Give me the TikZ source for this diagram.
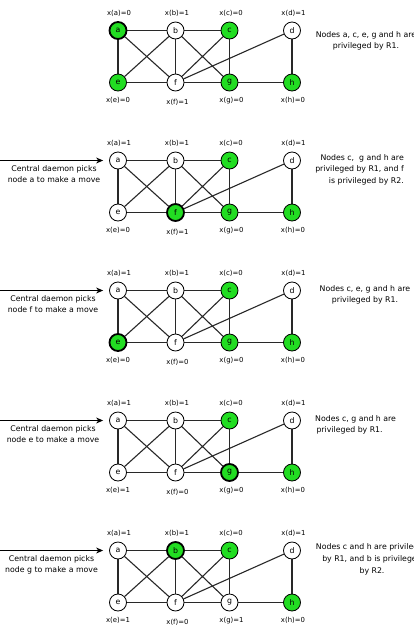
\documentclass[tikz,border=0pt]{standalone}
\usepackage{fontspec}
\setmainfont{DejaVu Sans}
\usetikzlibrary{arrows.meta,backgrounds}
\definecolor{nodegreen}{RGB}{34,221,34}
\definecolor{edgegray}{RGB}{40,40,40}
\newcommand{\txtfont}{\fontsize{7.8}{11.7}\selectfont}
\newcommand{\lblfont}{\fontsize{6.9}{8}\selectfont}
\newcommand{\vtxfont}{\fontsize{7.8}{8}\selectfont}
\tikzset{
  vtx/.style={circle, draw=black, line width=0.8pt, minimum size=17pt, inner sep=0pt, fill=white, font=\vtxfont},
  on/.style={fill=nodegreen},
  sel/.style={line width=1.8pt},
  val/.style={font=\lblfont, inner sep=0pt},
  edge/.style={line width=1.1pt, draw=edgegray},
  txt/.style={font=\txtfont, inner sep=0pt, anchor=north},
  pick/.style={line width=0.9pt, -{Stealth[length=7pt,width=6pt]}, shorten >=6pt},
}
\begin{document}
\begin{tikzpicture}[x=1pt,y=-1pt]
\useasboundingbox (0,0) rectangle (414,630);
\clip (0,0) rectangle (414,630);
\def\xa{118}\def\xb{175.5}\def\xc{229.5}\def\xd{292}
% ---------- panel 1 ----------
\def\yt{30.5}\def\yb{82.5}
\node[vtx,on,sel] (a1) at (\xa,\yt) {a};
\node[vtx] (b1) at (\xb,\yt) {b};
\node[vtx,on] (c1) at (\xc,\yt) {c};
\node[vtx] (d1) at (\xd,\yt) {d};
\node[vtx,on] (e1) at (\xa,\yb) {e};
\node[vtx] (f1) at (\xb,\yb) {f};
\node[vtx,on] (g1) at (\xc,\yb) {g};
\node[vtx,on] (h1) at (\xd,\yb) {h};
\node[val] (la1) at (\xa+1,\yt-17.5) {x(a)=0};
\node[val] (lb1) at (\xb+1.5,\yt-17.5) {x(b)=1};
\node[val] (lc1) at (\xc+1.5,\yt-17.5) {x(c)=0};
\node[val] (ld1) at (\xd+1.5,\yt-17.5) {x(d)=1};
\node[val] (le1) at (\xa,\yb+17.5) {x(e)=0};
\node[val] (lf1) at (\xb+2,\yb+19.5) {x(f)=1};
\node[val] (lg1) at (\xc+2,\yb+18) {x(g)=0};
\node[val] (lh1) at (\xd+1,\yb+17.5) {x(h)=0};
\node[txt,align=center] (r1) at (366,\yt+0.5) {Nodes a, c, e, g and h are\\privileged by R1.};
% ---------- panel 2 ----------
\def\yt{160.5}\def\yb{212.5}
\node[vtx] (a2) at (\xa,\yt) {a};
\node[vtx] (b2) at (\xb,\yt) {b};
\node[vtx,on] (c2) at (\xc,\yt) {c};
\node[vtx] (d2) at (\xd,\yt) {d};
\node[vtx] (e2) at (\xa,\yb) {e};
\node[vtx,on,sel] (f2) at (\xb,\yb) {f};
\node[vtx,on] (g2) at (\xc,\yb) {g};
\node[vtx,on] (h2) at (\xd,\yb) {h};
\node[val] (la2) at (\xa+1,\yt-17.5) {x(a)=1};
\node[val] (lb2) at (\xb+1.5,\yt-17.5) {x(b)=1};
\node[val] (lc2) at (\xc+1.5,\yt-17.5) {x(c)=0};
\node[val] (ld2) at (\xd+1.5,\yt-17.5) {x(d)=1};
\node[val] (le2) at (\xa,\yb+17.5) {x(e)=0};
\node[val] (lf2) at (\xb+2,\yb+19.5) {x(f)=1};
\node[val] (lg2) at (\xc+2,\yb+18) {x(g)=0};
\node[val] (lh2) at (\xd+1,\yb+17.5) {x(h)=0};
\node[txt,align=right,anchor=north east] (r2) at (404,\yt-6.5) {Nodes c,~ g and h are\\privileged by R1, and f\\is privileged by R2.};
\node[txt,align=center] (t2) at (54,\yt+4.5) {Central daemon picks\\node a to make a move};
\coordinate (s2) at (0,\yt);
\draw[pick] (s2) -- (a2);
% ---------- panel 3 ----------
\def\yt{290.5}\def\yb{342.5}
\node[vtx] (a3) at (\xa,\yt) {a};
\node[vtx] (b3) at (\xb,\yt) {b};
\node[vtx,on] (c3) at (\xc,\yt) {c};
\node[vtx] (d3) at (\xd,\yt) {d};
\node[vtx,on,sel] (e3) at (\xa,\yb) {e};
\node[vtx] (f3) at (\xb,\yb) {f};
\node[vtx,on] (g3) at (\xc,\yb) {g};
\node[vtx,on] (h3) at (\xd,\yb) {h};
\node[val] (la3) at (\xa+1,\yt-17.5) {x(a)=1};
\node[val] (lb3) at (\xb+1.5,\yt-17.5) {x(b)=1};
\node[val] (lc3) at (\xc+1.5,\yt-17.5) {x(c)=0};
\node[val] (ld3) at (\xd+1.5,\yt-17.5) {x(d)=1};
\node[val] (le3) at (\xa,\yb+17.5) {x(e)=0};
\node[val] (lf3) at (\xb+2,\yb+19.5) {x(f)=0};
\node[val] (lg3) at (\xc+2,\yb+18) {x(g)=0};
\node[val] (lh3) at (\xd+1,\yb+17.5) {x(h)=0};
\node[txt,align=center] (r3) at (365,\yt-5.5) {Nodes c, e, g and h are\\privileged by R1.};
\node[txt,align=center] (t3) at (53,\yt+4.5) {Central daemon picks\\node f to make a move};
\coordinate (s3) at (0,\yt);
\draw[pick] (s3) -- (a3);
% ---------- panel 4 ----------
\def\yt{420.5}\def\yb{472.5}
\node[vtx] (a4) at (\xa,\yt) {a};
\node[vtx] (b4) at (\xb,\yt) {b};
\node[vtx,on] (c4) at (\xc,\yt) {c};
\node[vtx] (d4) at (\xd,\yt) {d};
\node[vtx] (e4) at (\xa,\yb) {e};
\node[vtx] (f4) at (\xb,\yb) {f};
\node[vtx,on,sel] (g4) at (\xc,\yb) {g};
\node[vtx,on] (h4) at (\xd,\yb) {h};
\node[val] (la4) at (\xa+1,\yt-17.5) {x(a)=1};
\node[val] (lb4) at (\xb+1.5,\yt-17.5) {x(b)=1};
\node[val] (lc4) at (\xc+1.5,\yt-17.5) {x(c)=0};
\node[val] (ld4) at (\xd+1.5,\yt-17.5) {x(d)=1};
\node[val] (le4) at (\xa,\yb+17.5) {x(e)=1};
\node[val] (lf4) at (\xb+2,\yb+19.5) {x(f)=0};
\node[val] (lg4) at (\xc+2,\yb+18) {x(g)=0};
\node[val] (lh4) at (\xd+1,\yb+17.5) {x(h)=0};
\node[txt,align=left,anchor=north west] (r4) at (315,\yt-5.5) {Nodes c, g and h are\\\,privileged by R1.};
\node[txt,align=center] (t4) at (53,\yt+4.5) {Central daemon picks\\node e to make a move};
\coordinate (s4) at (0,\yt);
\draw[pick] (s4) -- (a4);
% ---------- panel 5 ----------
\def\yt{550.5}\def\yb{602.5}
\node[vtx] (a5) at (\xa,\yt) {a};
\node[vtx,on,sel] (b5) at (\xb,\yt) {b};
\node[vtx,on] (c5) at (\xc,\yt) {c};
\node[vtx] (d5) at (\xd,\yt) {d};
\node[vtx] (e5) at (\xa,\yb) {e};
\node[vtx] (f5) at (\xb,\yb) {f};
\node[vtx] (g5) at (\xc,\yb) {g};
\node[vtx,on] (h5) at (\xd,\yb) {h};
\node[val] (la5) at (\xa+1,\yt-17.5) {x(a)=1};
\node[val] (lb5) at (\xb+1.5,\yt-17.5) {x(b)=1};
\node[val] (lc5) at (\xc+1.5,\yt-17.5) {x(c)=0};
\node[val] (ld5) at (\xd+1.5,\yt-17.5) {x(d)=1};
\node[val] (le5) at (\xa,\yb+17.5) {x(e)=1};
\node[val] (lf5) at (\xb+2,\yb+19.5) {x(f)=0};
\node[val] (lg5) at (\xc+2,\yb+18) {x(g)=1};
\node[val] (lh5) at (\xd+1,\yb+17.5) {x(h)=0};
\node[txt,align=center] (r5) at (372,\yt-7) {Nodes c and h are privileged\\by R1, and b is privileged\\by R2.};
\node[txt,align=center] (t5) at (51.5,\yt+4.5) {Central daemon picks\\node g to make a move};
\coordinate (s5) at (0,\yt);
\draw[pick] (s5) -- (a5);
% ---------- edges (behind the nodes) ----------
\begin{scope}[on background layer]
\foreach \p in {1,...,5} {
  \foreach \u/\v in {a/b,b/c,a/e,a/f,e/b,e/f,b/f,b/g,c/f,c/g,d/f,d/h,f/g,g/h} {
    \draw[edge] (\u\p) -- (\v\p);
  }
}
\end{scope}
\end{tikzpicture}
\end{document}
